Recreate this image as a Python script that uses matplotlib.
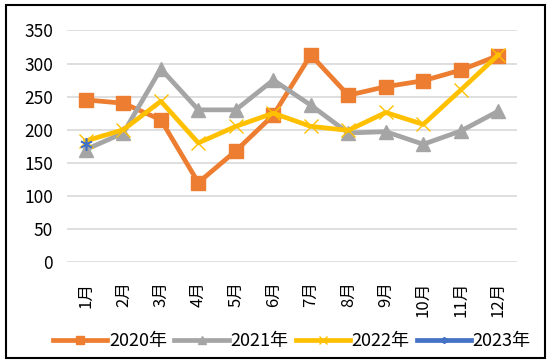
import matplotlib.pyplot as plt
import numpy as np

plt.rcParams['font.family'] = ['Noto Sans CJK SC', 'DejaVu Sans']

months = ['1月', '2月', '3月', '4月', '5月', '6月',
          '7月', '8月', '9月', '10月', '11月', '12月']
y2020 = [245, 240, 215, 120, 168, 222, 313, 252, 265, 274, 290, 312]
y2021 = [170, 195, 292, 230, 230, 275, 237, 195, 197, 178, 198, 228]
y2022 = [183, 200, 243, 180, 205, 225, 205, 199, 226, 208, 260, 313]
y2023 = [178]

fig = plt.figure(figsize=(5.5, 3.62), dpi=100)
ax = fig.add_axes([0.122, 0.276, 0.818, 0.64])

x = np.arange(len(months))
ax.plot(x, y2020, color='#ED7D31', lw=3.4, marker='s', ms=10,
        label='2020年', zorder=2)
ax.plot(x, y2021, color='#A5A5A5', lw=3.4, marker='^', ms=10,
        label='2021年', zorder=3)
ax.plot(x, y2022, color='#FFC000', lw=3.4, marker='x', ms=10, mew=1,
        label='2022年', zorder=4)
ax.plot(x[:len(y2023)], y2023, color='#4472C4', lw=3.4, marker=(6, 2, 0),
        ms=9, mew=1.2, label='2023年', zorder=5)

ax.set_xlim(-0.5, len(months) - 0.5)
ax.set_ylim(0, 350)
ax.set_yticks(range(0, 351, 50))
ax.set_xticks(x)
ax.set_xticklabels(months, rotation=90, fontsize=12)
ax.tick_params(axis='y', labelsize=12.5, length=0, pad=10)
ax.tick_params(axis='x', length=0, pad=14)
ax.yaxis.grid(True, color='#D9D9D9', lw=1.2)
ax.set_axisbelow(True)
for s in ax.spines.values():
    s.set_visible(False)

ax.legend(loc='lower center', bbox_to_anchor=(0.5, -0.45), ncol=4,
          frameon=False, fontsize=13, handlelength=3.0, columnspacing=0.4,
          handletextpad=0.1, markerscale=0.55)

# black border around the whole chart
fig.patches.append(plt.Rectangle((0.01, 0.012), 0.98, 0.975, fill=False,
                                 transform=fig.transFigure, lw=1.5,
                                 edgecolor='black'))

fig.savefig('out.png')
